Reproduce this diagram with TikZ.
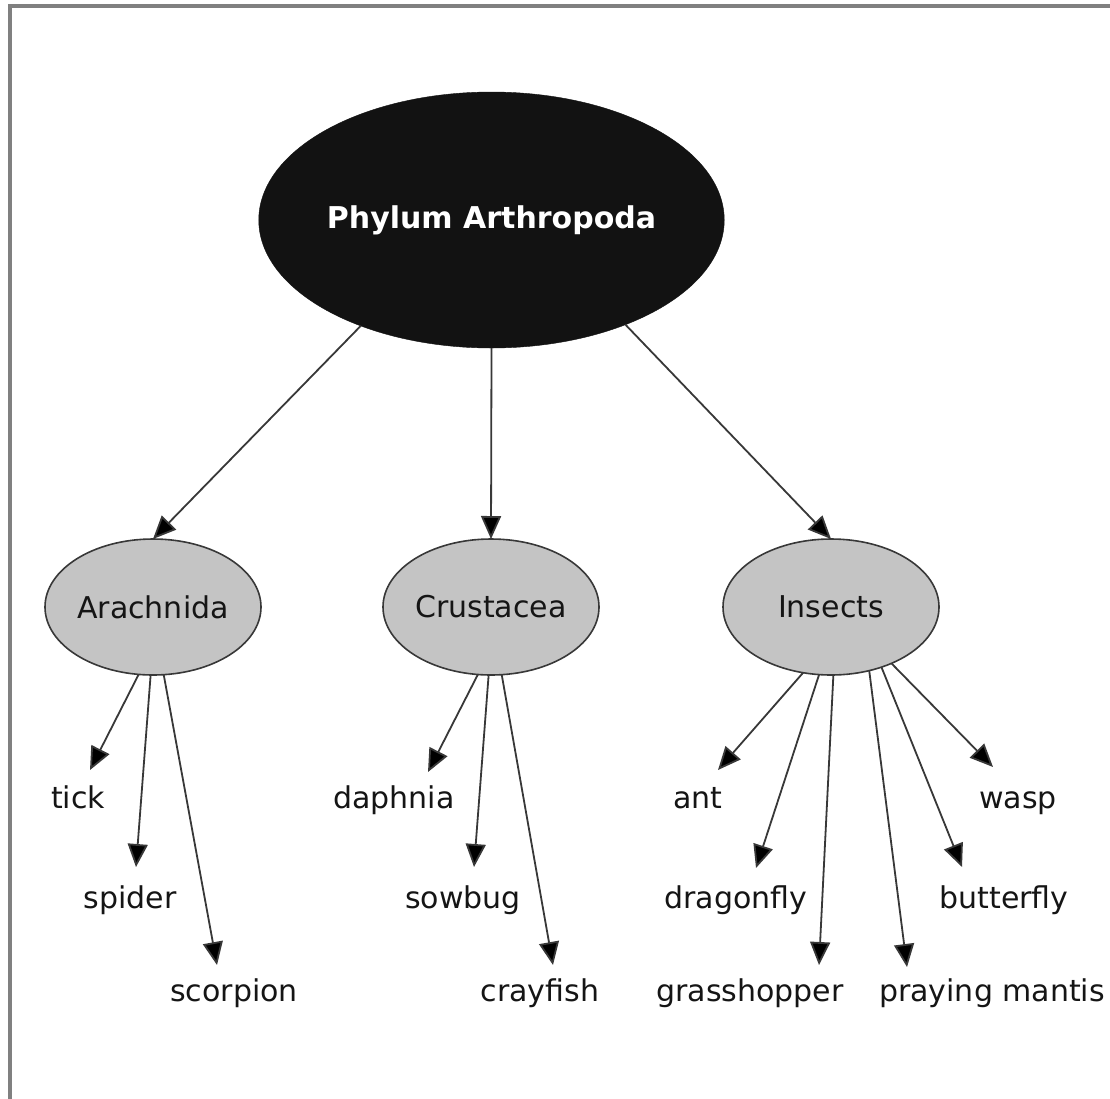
\documentclass[tikz,border=0pt]{standalone}
\usepackage{fontspec}
\setmainfont{DejaVu Sans}
\usetikzlibrary{shapes.geometric,arrows.meta}
\definecolor{inkc}{HTML}{151515}
\definecolor{linec}{HTML}{383838}
\definecolor{grayfill}{HTML}{C4C4C4}
\definecolor{framec}{HTML}{808080}
\tikzset{
  rootnode/.style={ellipse,fill=black!93,draw=black!93,minimum width=431pt,minimum height=256pt,inner sep=0pt,outer sep=0pt,text=white,font=\fontsize{30}{36}\selectfont\bfseries},
  classnode/.style={ellipse,fill=grayfill,draw=linec,line width=1.6pt,minimum width=216pt,minimum height=136pt,inner sep=0pt,outer sep=0pt,text=inkc,font=\fontsize{30}{36}\selectfont},
  leaf/.style={anchor=base,inner sep=0pt,text=inkc,font=\fontsize{30}{36}\selectfont},
  arr/.style={draw=linec,line width=1.8pt,-{Triangle[length=23pt,width=20pt,fill=black]}},
  framestyle/.style={draw=framec,line width=3.5pt}
}
\begin{document}
\begin{tikzpicture}[x=1pt,y=-1pt]
\useasboundingbox (0,0) rectangle (1110,1098);
\fill[white] (0,0) rectangle (1110,1098);
\draw[framestyle] (10,1100) -- (10,6) -- (1112,6);

\node[rootnode] (root) at (491.5,220) {Phylum Arthropoda};
\node[classnode] (arach) at (153,607) {Arachnida};
\node[classnode] (crust) at (491,607) {Crustacea};
\node[classnode] (insect) at (831,607) {Insects};

\draw[arr] (root.-141) -- (arach.north);
\draw[arr] (root.south) -- (crust.north);
\draw[arr] (root.-38.3) -- (insect.north);

% leaves
\node[leaf] (tick) at (78,808) {tick};
\node[leaf] (spider) at (130,908) {spider};
\node[leaf] (scorpion) at (234,1001) {scorpion};
\node[leaf] (daphnia) at (394,808) {daphnia};
\node[leaf] (sowbug) at (463,908) {sowbug};
\node[leaf] (crayfish) at (540,1001) {crayfish};
\node[leaf] (ant) at (698,808) {ant};
\node[leaf] (dragonfly) at (736,908) {dragonfly};
\node[leaf] (grasshopper) at (750,1001) {grasshopper};
\node[leaf] (mantis) at (992,1001) {praying mantis};
\node[leaf] (wasp) at (1018,808) {wasp};
\node[leaf] (butterfly) at (1004,908) {butterfly};

% arrow tips
\coordinate (tTick) at (90,770);
\coordinate (tSpider) at (136,867);
\coordinate (tScorpion) at (217,965);
\coordinate (tDaphnia) at (428,772);
\coordinate (tSowbug) at (474,867);
\coordinate (tCrayfish) at (553,965);
\coordinate (tAnt) at (718,770);
\coordinate (tDragonfly) at (756,868);
\coordinate (tGrass) at (819,965);
\coordinate (tMantis) at (907,967);
\coordinate (tButterfly) at (962,867);
\coordinate (tWasp) at (993,767);

\draw[arr] (arach.-102.4) -- (tTick);
\draw[arr] (arach.-92.5) -- (tSpider);
\draw[arr] (arach.-81.6) -- (tScorpion);
\draw[arr] (crust.-101.5) -- (tDaphnia);
\draw[arr] (crust.-92.5) -- (tSowbug);
\draw[arr] (crust.-81) -- (tCrayfish);
\draw[arr] (insect.-113.7) -- (tAnt);
\draw[arr] (insect.-100.8) -- (tDragonfly);
\draw[arr] (insect.-88.3) -- (tGrass);
\draw[arr] (insect.-59) -- (tMantis);
\draw[arr] (insect.-50.1) -- (tButterfly);
\draw[arr] (insect.-43.6) -- (tWasp);
\end{tikzpicture}
\end{document}
